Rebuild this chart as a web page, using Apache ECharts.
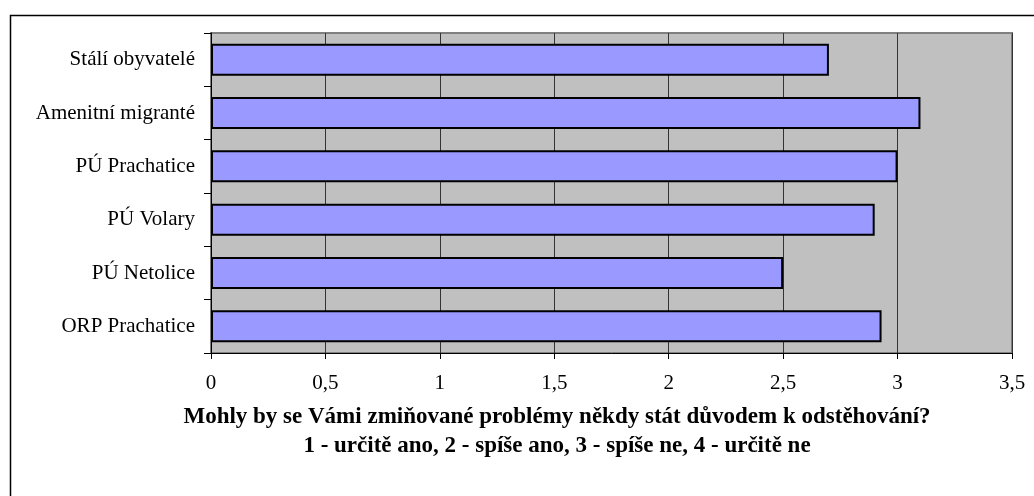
<!DOCTYPE html>
<html>
<head>
<meta charset="utf-8">
<script src="https://cdn.jsdelivr.net/npm/echarts@6/dist/echarts.min.js"></script>
<style>
html,body{margin:0;padding:0;background:#fff;}
#c{width:1034px;height:496px;}
</style>
</head>
<body>
<div id="c"></div>
<script>
const categories = ['Stálí obyvatelé', 'Amenitní migranté', 'PÚ Prachatice', 'PÚ Volary', 'PÚ Netolice', 'ORP Prachatice'];
const values = [2.70, 3.10, 3.00, 2.90, 2.50, 2.93];
const titleLines = ['Mohly by se Vámi zmiňované problémy někdy stát důvodem k odstěhování?', '1 - určitě ano, 2 - spíše ano, 3 - spíše ne, 4 - určitě ne'];

const chart = echarts.init(document.getElementById('c'), null, {renderer: 'canvas'});
const font = '"Liberation Serif", "Times New Roman", serif';
chart.setOption({
  animation: false,
  backgroundColor: '#fff',
  grid: {
    left: 211, top: 33, right: 22, bottom: 143,
    show: true, backgroundColor: '#C0C0C0', borderColor: '#808080', borderWidth: 2
  },
  xAxis: {
    type: 'value', min: 0, max: 3.5, interval: 0.5,
    axisLine: {show: true, lineStyle: {color: '#000', width: 1}},
    axisTick: {show: true, length: 6, lineStyle: {color: '#000'}},
    splitLine: {show: true, lineStyle: {color: '#333', width: 1}},
    axisLabel: {
      color: '#000', fontFamily: font, fontSize: 21, margin: 20,
      formatter: v => String(v).replace('.', ',')
    }
  },
  yAxis: {
    type: 'category', data: categories, inverse: true,
    axisLine: {show: true, lineStyle: {color: '#000', width: 1}},
    axisTick: {show: true, length: 7, lineStyle: {color: '#000'}},
    splitLine: {show: false},
    axisLabel: {color: '#000', fontFamily: font, fontSize: 21, margin: 16}
  },
  series: [{
    type: 'bar', data: values, barCategoryGap: '40%',
    itemStyle: {color: '#9999FF', borderColor: '#000', borderWidth: 2}
  }],
  graphic: [
    {type: 'rect', left: 8, top: 13, shape: {x: 0, y: 0, width: 1100, height: 600},
     style: {fill: 'none', stroke: '#000', lineWidth: 1.5}, silent: true},
    {type: 'text', x: 557, y: 417, style: {text: titleLines[0], font: 'bold 23px ' + font, fill: '#000', textAlign: 'center', textVerticalAlign: 'middle'}},
    {type: 'text', x: 557, y: 446, style: {text: titleLines[1], font: 'bold 23px ' + font, fill: '#000', textAlign: 'center', textVerticalAlign: 'middle'}}
  ]
});
</script>
</body>
</html>
